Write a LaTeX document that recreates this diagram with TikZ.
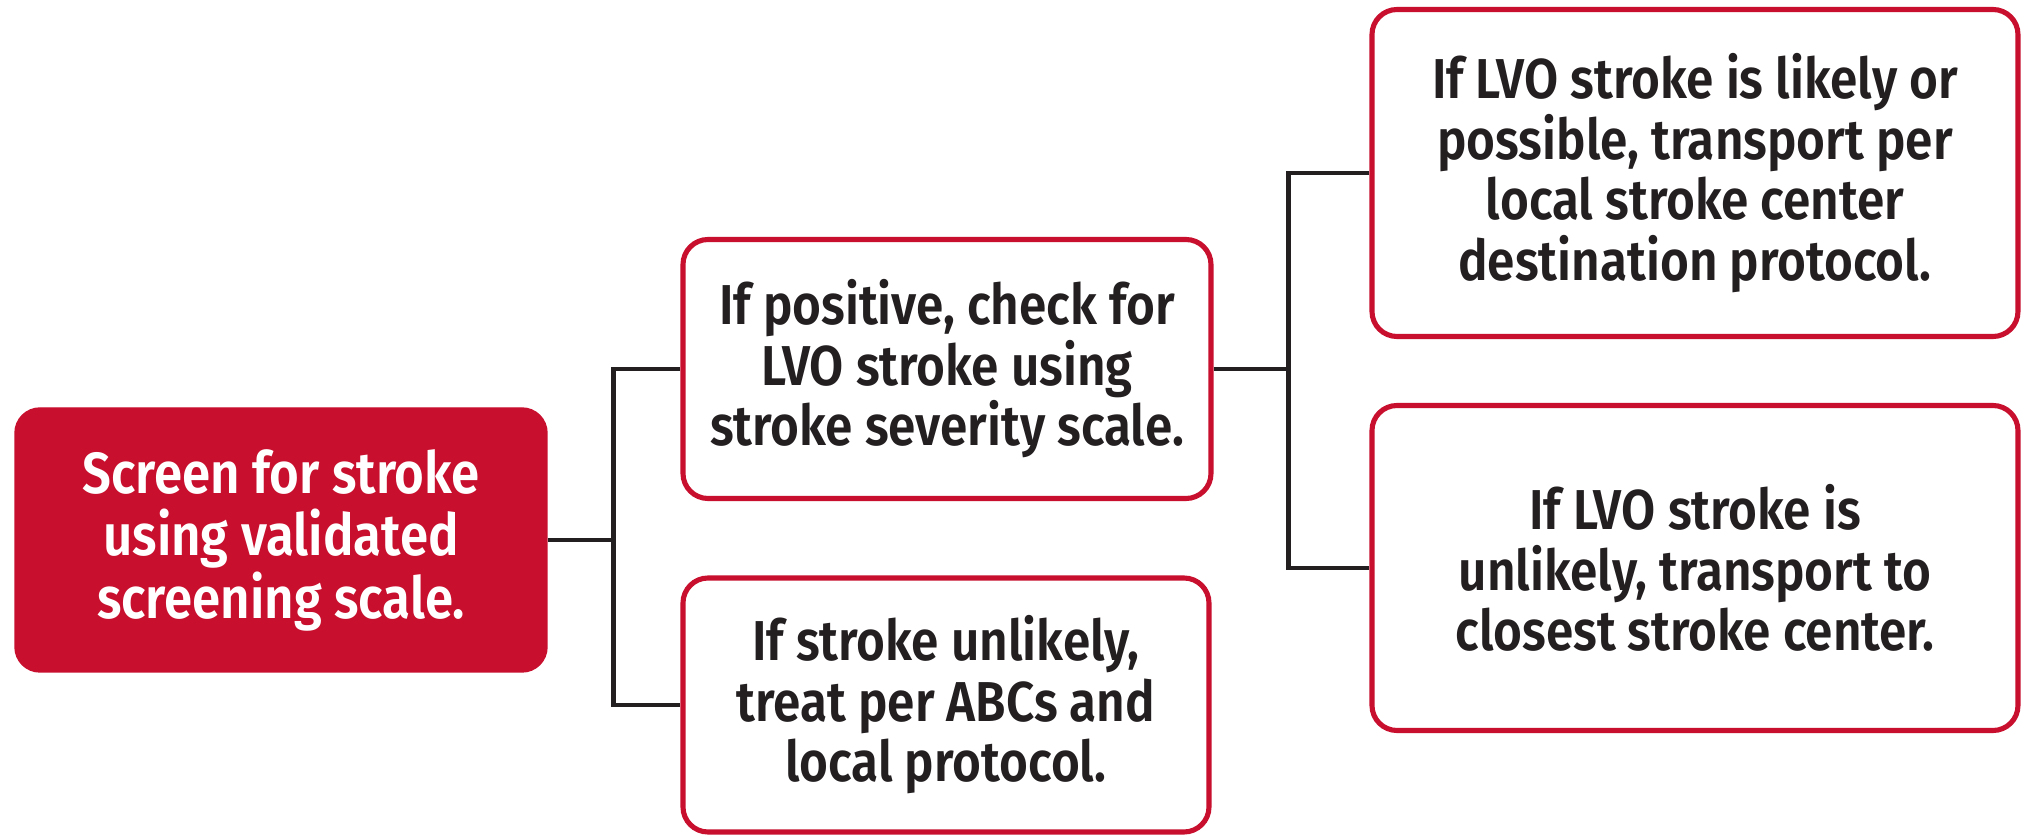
\documentclass[tikz,border=0pt]{standalone}
\usepackage{fontspec}
\setmainfont{Fira Sans SemiBold}[FakeStretch=0.88]
\definecolor{ahared}{RGB}{200,16,46}
\definecolor{ink}{RGB}{35,31,32}
\begin{document}
\begin{tikzpicture}[x=0.1mm,y=-0.1mm,
  box/.style={draw=ahared,line width=1.45pt,rounded corners=2.5mm,fill=white,
    text=ink,font=\fontsize{16}{17.2}\selectfont,align=center,inner sep=0pt},
  mainbox/.style={fill=ahared,draw=ahared,rounded corners=2.5mm,text=white,
    font=\fontsize{16.5}{17.8}\selectfont,align=center,inner sep=0pt},
  conn/.style={draw=ink,line width=1.3pt}]
\useasboundingbox (0,0) rectangle (2023,837);
\node[mainbox,minimum width=53.2mm,minimum height=26.4mm] (screen) at (281,540)
  {Screen for stroke\\using validated\\screening scale.};
\node[box,minimum width=52.8mm,minimum height=25.9mm] (pos) at (947,369)
  {If positive, check for\\LVO stroke using\\stroke severity scale.};
\node[box,minimum width=52.6mm,minimum height=25.4mm] (neg) at (946,705)
  {If stroke unlikely,\\treat per ABCs and\\local protocol.};
\node[box,minimum width=64.6mm,minimum height=32.7mm] (likely) at (1695,173)
  {If LVO stroke is likely or\\possible, transport per\\local stroke center\\destination protocol.};
\node[box,minimum width=64.6mm,minimum height=32.5mm] (unlikely) at (1695,568)
  {If LVO stroke is\\unlikely, transport to\\closest stroke center.};
% connectors
\draw[conn] (screen.east) -- ++(66,0) coordinate (j1);
\draw[conn] (pos.west) -| (j1) |- (neg.west);
\draw[conn] (pos.east) -- ++(75,0) coordinate (j2);
\draw[conn] (likely.west) -| (j2) |- (unlikely.west);
\end{tikzpicture}
\end{document}
